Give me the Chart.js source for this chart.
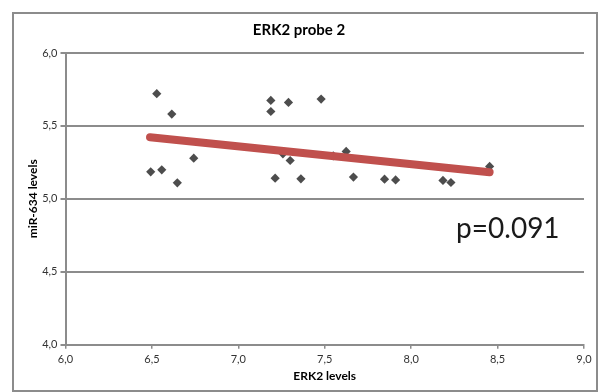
<!DOCTYPE html>
<html>
<head>
<meta charset="utf-8">
<script src="https://cdn.jsdelivr.net/npm/chart.js@4.4.1/dist/chart.umd.min.js"></script>
<style>
  html, body { margin: 0; padding: 0; background: #fff; }
  #wrap { width: 600px; height: 392px; }
</style>
</head>
<body>
<div id="wrap"><canvas id="myChart" width="600" height="392"></canvas></div>
<script>
// values
const erk2 = [6.528, 6.615, 7.188, 7.290, 7.188, 6.493, 6.557, 6.647, 6.742, 7.213, 7.300,
              7.258, 7.362, 7.479, 7.549, 7.624, 7.666, 7.846, 7.910, 8.184, 8.230, 8.454];
const mir634 = [5.721, 5.581, 5.675, 5.661, 5.599, 5.185, 5.199, 5.110, 5.279, 5.142, 5.263,
                5.309, 5.137, 5.684, 5.295, 5.325, 5.149, 5.135, 5.130, 5.126, 5.112, 5.222];
const trendX = [6.489, 8.454];
const trendY = [5.423, 5.183];
const xTicks = [6.0, 6.5, 7.0, 7.5, 8.0, 8.5, 9.0];
const yTicks = [4.0, 4.5, 5.0, 5.5, 6.0];
const pText = 'p=0.091';

const FONT = 'Lato, "Open Sans", sans-serif';
const GRID = '#8c8c8c';

function comma(v) {
    return v.toFixed(1).replace('.', ',');
}

const points = erk2.map((x, i) => ({ x: x, y: mir634[i] }));
const trend = trendX.map((x, i) => ({ x: x, y: trendY[i] }));

// outer frame + p value
const extras = {
    id: 'extras',
    beforeDraw(chart) {
        const c = chart.ctx;
        c.save();
        c.fillStyle = '#fff';
        c.fillRect(0, 0, chart.width, chart.height);
        c.strokeStyle = '#8c8c8c';
        c.lineWidth = 2;
        c.strokeRect(13, 13, 584, 378);
        c.restore();
    },
    afterDraw(chart) {
        const c = chart.ctx;
        const xs = chart.scales.x, ys = chart.scales.y;
        c.save();
        c.font = '400 28px ' + FONT;
        c.fillStyle = '#1a1a1a';
        c.textAlign = 'left';
        c.textBaseline = 'alphabetic';
        c.fillText(pText, xs.getPixelForValue(8.26), ys.getPixelForValue(4.73));
        c.restore();
    }
};

var ctx = document.getElementById('myChart').getContext('2d');
var myChart = new Chart(ctx, {
    type: 'scatter',
    data: {
        datasets: [{
            label: 'trend',
            data: trend,
            showLine: true,
            borderColor: '#c0504d',
            borderWidth: 8,
            borderCapStyle: 'round',
            pointRadius: 0,
            pointHoverRadius: 0
        }, {
            label: 'miR-634',
            data: points,
            pointStyle: 'rectRot',
            pointRadius: 4.6,
            backgroundColor: '#4d4d4d',
            borderColor: '#4d4d4d',
            borderWidth: 0
        }]
    },
    options: {
        responsive: false,
        animation: false,
        layout: { padding: { left: 14, right: 16, top: 0, bottom: 0 } },
        plugins: {
            legend: { display: false },
            tooltip: { enabled: false },
            title: {
                display: true,
                text: 'ERK2 probe 2',
                color: '#000',
                font: { family: FONT, size: 15, weight: 'bold', lineHeight: 1.2 },
                padding: { top: 21, bottom: 14 }
            }
        },
        scales: {
            x: {
                type: 'linear',
                min: 6, max: 9,
                afterBuildTicks: s => { s.ticks = xTicks.map(v => ({ value: v })); },
                afterFit: s => { s.height = 47.3; },
                grid: { drawOnChartArea: false, drawTicks: true, tickLength: 4, color: GRID, lineWidth: 1.5 },
                border: { color: GRID, width: 2 },
                ticks: {
                    color: '#333',
                    padding: 4,
                    maxRotation: 0,
                    font: { family: FONT, size: 11 },
                    callback: v => comma(v)
                },
                title: {
                    display: true,
                    text: 'ERK2 levels',
                    color: '#000',
                    font: { family: FONT, size: 12, weight: 'bold', lineHeight: 1.2 },
                    padding: { top: 0, bottom: 9 }
                }
            },
            y: {
                type: 'linear',
                min: 4, max: 6,
                afterBuildTicks: s => { s.ticks = yTicks.map(v => ({ value: v })); },
                afterFit: s => { s.width = 51.5; },
                grid: { drawTicks: true, tickLength: 5, color: GRID, lineWidth: 2 },
                border: { color: GRID, width: 2 },
                ticks: {
                    color: '#333',
                    padding: 3,
                    font: { family: FONT, size: 11 },
                    callback: v => comma(v)
                },
                title: {
                    display: true,
                    text: 'miR-634 levels',
                    color: '#000',
                    font: { family: FONT, size: 12, weight: 'bold', lineHeight: 1.2 },
                    padding: { top: 12, bottom: 0 }
                }
            }
        }
    },
    plugins: [extras]
});
</script>
</body>
</html>
